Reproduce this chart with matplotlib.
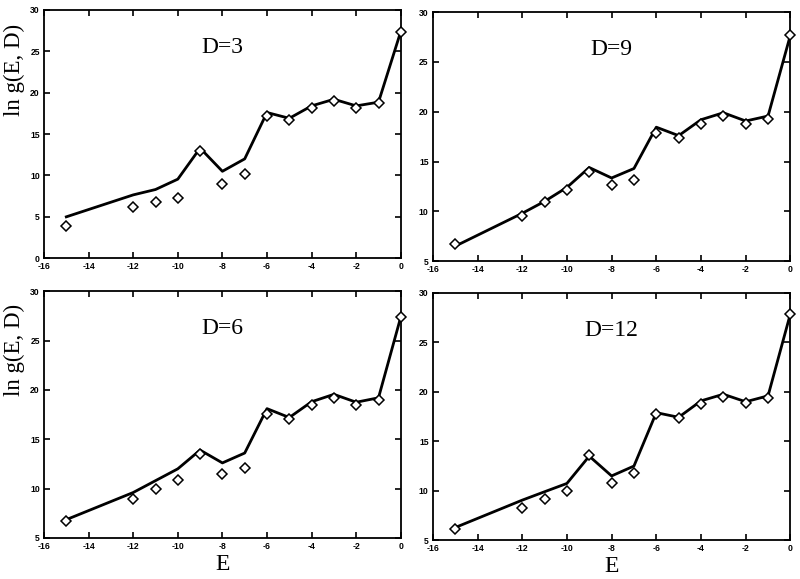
import numpy as np
import matplotlib
matplotlib.use("Agg")
import matplotlib.pyplot as plt

plt.rcParams["axes.unicode_minus"] = False

E = [-15, -12, -11, -10, -9, -8, -7, -6, -5, -4, -3, -2, -1, 0]

# solid curves
line_d3 = [5.0, 7.65, 8.3, 9.55, 13.3, 10.5, 12.0, 17.6, 16.9, 18.4, 19.2, 18.4, 18.85, 27.4]
line_d9 = [6.5, 9.8, 11.0, 12.4, 14.4, 13.35, 14.3, 18.45, 17.6, 19.2, 19.9, 19.07, 19.57, 27.7]
line_d6 = [6.85, 9.6, 10.8, 12.0, 13.9, 12.6, 13.6, 18.1, 17.2, 18.8, 19.55, 18.75, 19.2, 27.4]
line_d12 = [6.28, 9.05, 9.9, 10.74, 13.5, 11.5, 12.5, 17.9, 17.43, 19.09, 19.76, 19.0, 19.6, 27.9]

# diamond points
pts_d3 = [3.95, 6.15, 6.75, 7.3, 13.0, 9.0, 10.2, 17.2, 16.7, 18.2, 19.0, 18.2, 18.7, 27.3]
pts_d9 = [6.67, 9.5, 10.9, 12.1, 13.9, 12.6, 13.1, 17.87, 17.37, 18.77, 19.54, 18.8, 19.3, 27.7]
pts_d6 = [6.7, 8.95, 9.95, 10.9, 13.5, 11.5, 12.07, 17.6, 17.0, 18.47, 19.14, 18.47, 18.97, 27.4]
pts_d12 = [6.18, 8.28, 9.12, 9.97, 13.6, 10.8, 11.76, 17.77, 17.33, 18.78, 19.53, 18.92, 19.36, 27.9]

fig = plt.figure(figsize=(8, 5.79), dpi=100)

# left, bottom, width, height in figure fraction
panels = [
    ([0.055, 0.554, 0.446, 0.429], "D=3", line_d3, pts_d3, (0, 30), True, False),
    ([0.541, 0.549, 0.447, 0.430], "D=9", line_d9, pts_d9, (5, 30), False, False),
    ([0.055, 0.071, 0.446, 0.426], "D=6", line_d6, pts_d6, (5, 30), True, True),
    ([0.541, 0.067, 0.447, 0.427], "D=12", line_d12, pts_d12, (5, 30), False, True),
]

for rect, name, ln, pt, ylim, ylab, xlab in panels:
    ax = fig.add_axes(rect)
    ax.plot(E, ln, color="black", lw=2.0, zorder=2)
    ax.plot(E, pt, linestyle="none", marker="D", markersize=4.6,
            markerfacecolor="white", markeredgecolor="black",
            markeredgewidth=1.1, zorder=3, clip_on=False)
    ax.set_xlim(-16, 0)
    ax.set_ylim(*ylim)
    ax.set_xticks(np.arange(-16, 1, 2))
    ax.set_yticks(np.arange(ylim[0], 31, 5))
    ax.tick_params(direction="in", top=True, right=True, length=4,
                   width=1.2, labelsize=6.2, pad=3)
    for lbl in ax.get_xticklabels() + ax.get_yticklabels():
        lbl.set_fontweight("bold")
        lbl.set_family("Liberation Sans")
    for s in ax.spines.values():
        s.set_linewidth(1.3)
    ax.text(0.5, 0.85, name, transform=ax.transAxes, ha="center", va="center",
            fontsize=17, family="Liberation Serif")
    if ylab:
        ax.set_ylabel("ln g(E, D)", fontsize=16.5, family="Liberation Serif")
        ax.yaxis.set_label_coords(-0.052, 0.76)
    if xlab:
        ax.set_xlabel("E", fontsize=17, family="Liberation Serif", labelpad=2)

fig.savefig("out.png", dpi=100)
